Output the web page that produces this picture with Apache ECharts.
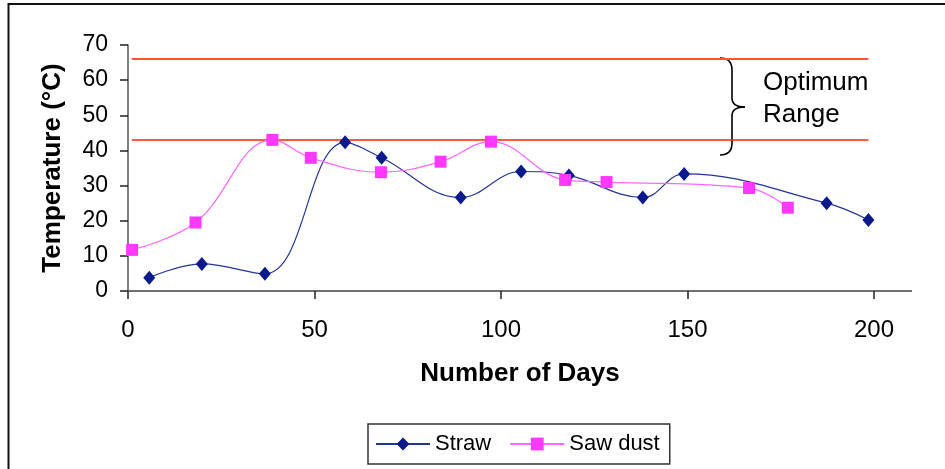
<!DOCTYPE html>
<html>
<head>
<meta charset="utf-8">
<script src="https://cdn.jsdelivr.net/npm/echarts@6/dist/echarts.min.js"></script>
<style>
html,body{margin:0;padding:0;background:#fff;}
#chart{width:945px;height:469px;}
</style>
</head>
<body>
<div id="chart"></div>
<script>
// ---- data ----
var strawDays = [5.7, 19.8, 36.7, 58.2, 68, 89.2, 105.4, 118.2, 138, 149.1, 187.3, 198.5];
var strawTemp = [3.8, 7.7, 4.9, 42.3, 37.9, 26.6, 34.0, 32.9, 26.6, 33.3, 25.0, 20.2];
var sawDays = [1.1, 18.1, 38.7, 49.0, 67.8, 83.8, 97.3, 117.2, 128.3, 166.5, 176.9];
var sawTemp = [11.7, 19.5, 43.0, 37.9, 33.8, 36.8, 42.5, 31.6, 31.0, 29.3, 23.7];
var rangeDays = [1, 198.5];
var rangeUpper = [66, 66];
var rangeLower = [43, 43];
var seriesNames = ['Straw', 'Saw dust'];
var xTitle = 'Number of Days';
var yTitle = 'Temperature (°C)';
var noteLines = ['Optimum', 'Range'];

function pairs(xs, ys) { return xs.map(function (x, i) { return [x, ys[i]]; }); }

var FONT = '"Liberation Sans", Arial, Helvetica, sans-serif';
var chart = echarts.init(document.getElementById('chart'));

var braceStyle = { fill: 'none', stroke: '#000', lineWidth: 1.6 };
var option = {
  backgroundColor: '#ffffff',
  animation: false,
  grid: { left: 128, right: 71, top: 45, bottom: 178, containLabel: false },
  xAxis: {
    type: 'value', min: 0, max: 200, interval: 50,
    name: xTitle, nameLocation: 'middle', nameGap: 70, nameTextStyle: { fontFamily: FONT, fontSize: 26, fontWeight: 'bold', color: '#000', padding: [0, 0, 0, 38] },
    axisLine: { show: true, lineStyle: { color: '#707070', width: 2 } },
    axisTick: { show: true, length: 8, inside: false, lineStyle: { color: '#222', width: 1.5 } },
    axisLabel: { margin: 27, fontFamily: FONT, fontSize: 24, color: '#000' },
    splitLine: { show: false }
  },
  yAxis: {
    type: 'value', min: 0, max: 70, interval: 10,
    name: yTitle, nameLocation: 'middle', nameGap: 62,
    nameTextStyle: { fontFamily: FONT, fontSize: 26, fontWeight: 'bold', color: '#000' },
    axisLine: { show: true, lineStyle: { color: '#555', width: 1.5 } },
    axisTick: { show: true, length: 8, lineStyle: { color: '#222', width: 1.5 } },
    axisLabel: { margin: 20, fontFamily: FONT, fontSize: 23, color: '#000' },
    splitLine: { show: false }
  },
  legend: {
    data: seriesNames,
    left: 368, top: 424,
    padding: [9, 10, 9, 7],
    itemWidth: 54, itemHeight: 16, itemGap: 18,
    borderColor: '#333', borderWidth: 1.5,
    textStyle: { fontFamily: FONT, fontSize: 22, color: '#000' }
  },
  series: [
    {
      name: 'upper', type: 'line', data: pairs(rangeDays, rangeUpper),
      symbol: 'none', silent: true, z: 1,
      lineStyle: { color: '#ff5535', width: 2 }
    },
    {
      name: 'lower', type: 'line', data: pairs(rangeDays, rangeLower),
      symbol: 'none', silent: true, z: 1,
      lineStyle: { color: '#ff2200', width: 1.5 }
    },
    {
      name: seriesNames[0], type: 'line', data: pairs(strawDays, strawTemp),
      smooth: 0.4, symbol: 'diamond', symbolSize: [12, 14], z: 3,
      itemStyle: { color: '#0a1a8c' },
      lineStyle: { color: '#23349a', width: 1.2 }
    },
    {
      name: seriesNames[1], type: 'line', data: pairs(sawDays, sawTemp),
      smooth: 0.4, symbol: 'rect', symbolSize: 12, z: 4,
      itemStyle: { color: '#ff38ff' },
      lineStyle: { color: '#ff66ff', width: 1.2 }
    }
  ],
  graphic: [
    {
      type: 'rect', silent: true,
      shape: { x: 8.5, y: 4, width: 960, height: 500 },
      style: { fill: 'none', stroke: '#111', lineWidth: 2 }
    },
    // extension of the x axis line past the last tick
    { type: 'line', silent: true, shape: { x1: 874, y1: 291, x2: 912, y2: 291 }, style: { stroke: '#707070', lineWidth: 2 } },
    { type: 'bezierCurve', silent: true, shape: { x1: 720, y1: 58, cpx1: 732, cpy1: 58, x2: 732, y2: 70 }, style: braceStyle },
    { type: 'line', silent: true, shape: { x1: 732, y1: 70, x2: 732, y2: 98 }, style: braceStyle },
    { type: 'bezierCurve', silent: true, shape: { x1: 732, y1: 98, cpx1: 732, cpy1: 107, x2: 745, y2: 107 }, style: braceStyle },
    { type: 'bezierCurve', silent: true, shape: { x1: 745, y1: 107, cpx1: 732, cpy1: 107, x2: 732, y2: 116 }, style: braceStyle },
    { type: 'line', silent: true, shape: { x1: 732, y1: 116, x2: 732, y2: 143 }, style: braceStyle },
    { type: 'bezierCurve', silent: true, shape: { x1: 732, y1: 143, cpx1: 732, cpy1: 155, x2: 720, y2: 155 }, style: braceStyle },
    {
      type: 'text', silent: true, left: 763, top: 70,
      style: { text: noteLines[0], font: '26px ' + FONT, fill: '#000' }
    },
    {
      type: 'text', silent: true, left: 763, top: 102,
      style: { text: noteLines[1], font: '26px ' + FONT, fill: '#000' }
    }
  ]
};
chart.setOption(option);
</script>
</body>
</html>
